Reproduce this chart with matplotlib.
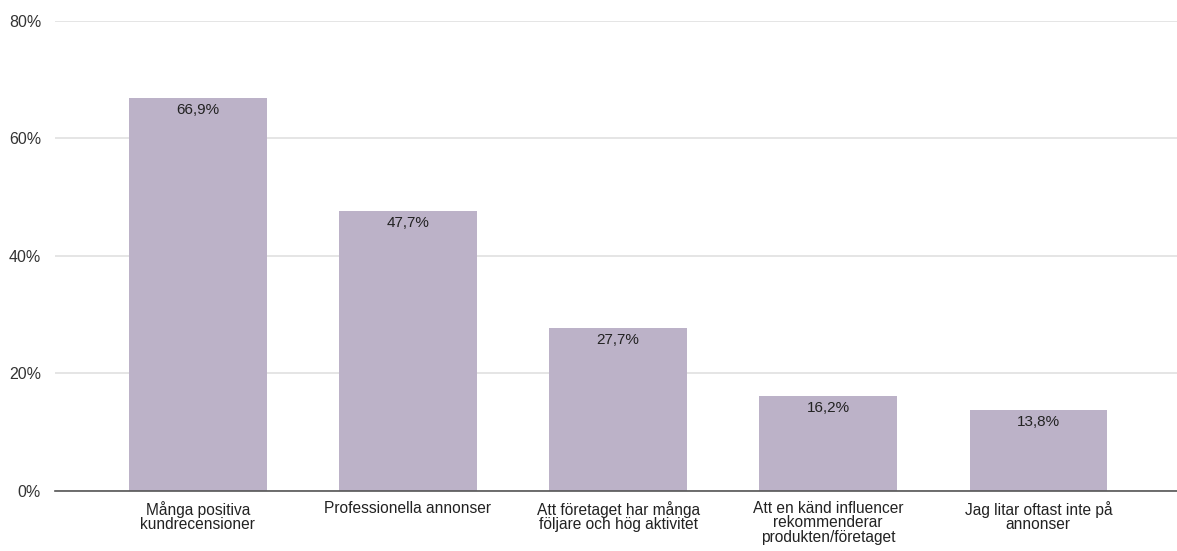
import matplotlib.pyplot as plt
import numpy as np

categories = [
    "Många positiva\nkundrecensioner",
    "Professionella annonser",
    "Att företaget har många\nföljare och hög aktivitet",
    "Att en känd influencer\nrekommenderar\nprodukten/företaget",
    "Jag litar oftast inte på\nannonser",
]
values = [66.9, 47.7, 27.7, 16.2, 13.8]
y_ticks = [0, 20, 40, 60, 80]

plt.rcParams['font.family'] = ['Liberation Sans', 'DejaVu Sans']

fig = plt.figure(figsize=(11.77, 5.51), dpi=100)
ax = fig.add_axes([0.0467, 0.109, 0.9533, 0.853])

x = np.arange(len(values))
ax.bar(x, values, width=0.655, color='#bcb2c8', zorder=2)

# value labels sit just inside the top of each bar
for xi, v in zip(x, values):
    label = f"{v:.1f}%".replace('.', ',')
    ax.text(xi, v - 0.9, label, ha='center', va='top', fontsize=11, color='#222222', zorder=3)

ax.set_xlim(-0.68, 4.66)
ax.set_ylim(0, 80)
ax.set_yticks(y_ticks)
ax.set_yticklabels([f"{t}%" for t in y_ticks], fontsize=11.5, color='#333333')
ax.set_xticks(x)
ax.set_xticklabels(categories, fontsize=11.2, color='#222222', linespacing=0.98)

ax.grid(axis='y', color='#e0e0e0', linewidth=1.2, zorder=0)
ax.tick_params(axis='both', length=0)
ax.tick_params(axis='y', pad=10)
ax.tick_params(axis='x', pad=7)
for s in ['top', 'right', 'left']:
    ax.spines[s].set_visible(False)
ax.spines['bottom'].set_color('#555555')
ax.spines['bottom'].set_linewidth(1.2)
ax.spines['bottom'].set_zorder(3)

fig.savefig('out.png', dpi=100)
